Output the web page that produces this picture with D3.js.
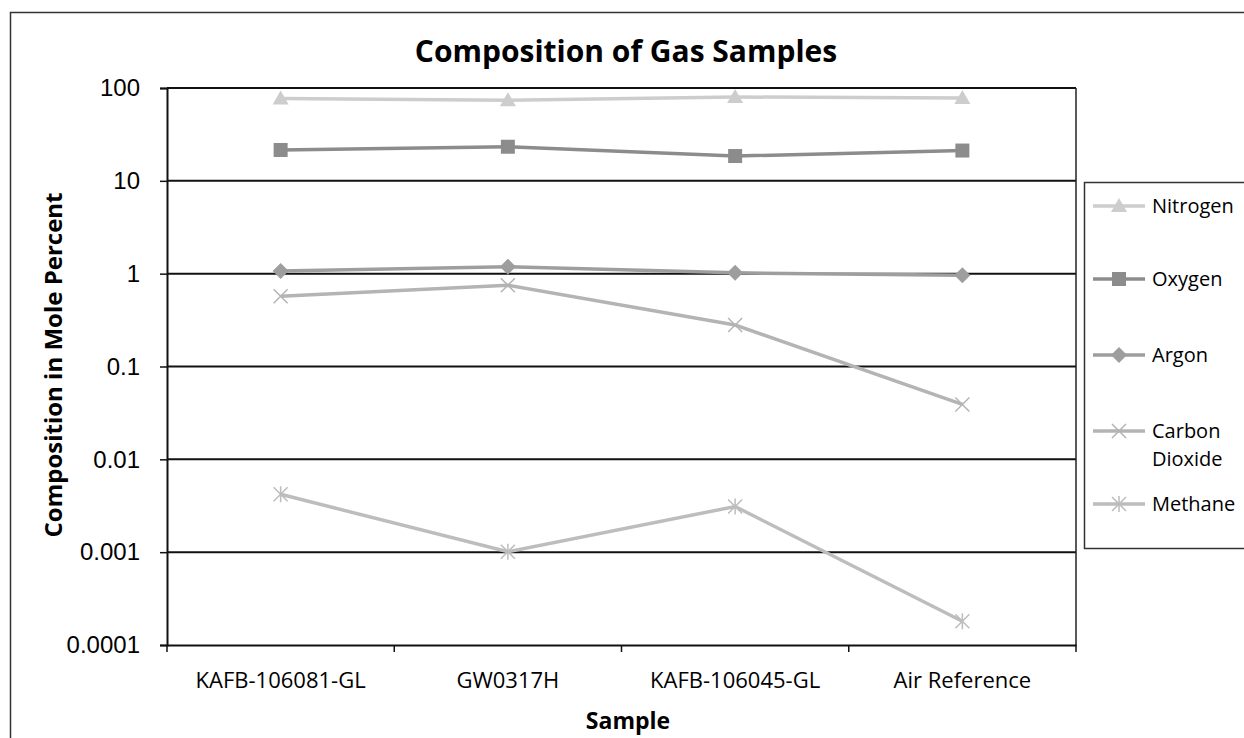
<!DOCTYPE html>
<html>
<head>
<meta charset="utf-8">
<script src="https://cdn.jsdelivr.net/npm/d3@7"></script>
<style>
  body { margin: 0; background: #fff; }
  svg { display: block; }
</style>
</head>
<body>
<svg width="1244" height="738"></svg>
<script>
// chart data
var samples = ["KAFB-106081-GL", "GW0317H", "KAFB-106045-GL", "Air Reference"];
var nitrogen = [77, 74, 80, 78];
var oxygen = [21.5, 23.3, 18.5, 21.2];
var argon = [1.07, 1.19, 1.02, 0.96];
var carbonDioxide = [0.57, 0.75, 0.28, 0.039];
var methane = [0.0042, 0.00101, 0.0031, 0.00018];
var yTicks = [0.0001, 0.001, 0.01, 0.1, 1, 10, 100];
var yTickLabels = ["0.0001", "0.001", "0.01", "0.1", "1", "10", "100"];

var series = [
  { name: "Nitrogen", values: nitrogen, color: "#cdcdcd", marker: "triangle" },
  { name: "Oxygen", values: oxygen, color: "#8c8c8c", marker: "square" },
  { name: "Argon", values: argon, color: "#9e9e9e", marker: "diamond" },
  { name: "Carbon Dioxide", values: carbonDioxide, color: "#b4b4b4", marker: "x" },
  { name: "Methane", values: methane, color: "#bdbdbd", marker: "star" }
];

var svg = d3.select("svg");

var margin = { top: 88, left: 167 };
var plotWidth = 1076 - margin.left;
var plotHeight = 645 - margin.top;

// outer frame
svg.append("rect")
  .attr("x", 10.5).attr("y", 12.5)
  .attr("width", 1250).attr("height", 760)
  .attr("fill", "none").attr("stroke", "#333").attr("stroke-width", 1.5);

var x = d3.scaleBand().domain(samples).range([0, plotWidth]);
var y = d3.scaleLog().domain([0.0001, 100]).range([plotHeight, 0]);

var plot = svg.append("g")
  .attr("transform", "translate(" + margin.left + "," + margin.top + ")");

// gridlines
plot.selectAll("line.grid")
  .data(yTicks.slice(1))
  .enter().append("line")
  .attr("class", "grid")
  .attr("x1", 0).attr("x2", plotWidth)
  .attr("y1", function(d) { return y(d); })
  .attr("y2", function(d) { return y(d); })
  .attr("stroke", "#111").attr("stroke-width", 2);

// right border
plot.append("line")
  .attr("x1", plotWidth).attr("x2", plotWidth)
  .attr("y1", 0).attr("y2", plotHeight)
  .attr("stroke", "#222").attr("stroke-width", 1.5);

// y axis
var yAxis = d3.axisLeft(y)
  .tickValues(yTicks)
  .tickFormat(function(d, i) { return yTickLabels[i]; })
  .tickSize(7).tickPadding(20);
var yg = plot.append("g").call(yAxis);
yg.select(".domain").attr("stroke", "#111").attr("stroke-width", 2);
yg.selectAll(".tick line").attr("stroke", "#111").attr("stroke-width", 1.5);
yg.selectAll(".tick text")
  .attr("font-family", "Liberation Sans, Arial, sans-serif")
  .attr("font-size", 24).attr("fill", "#000");

// x axis
var xAxis = d3.axisBottom(x).tickSize(0).tickPadding(27);
var xg = plot.append("g")
  .attr("transform", "translate(0," + plotHeight + ")")
  .call(xAxis);
xg.select(".domain").attr("stroke", "#111").attr("stroke-width", 2);
xg.selectAll(".tick text")
  .attr("font-family", "Open Sans, sans-serif")
  .attr("font-size", 22).attr("fill", "#000");
// band boundary ticks
xg.selectAll("line.bt")
  .data(d3.range(samples.length + 1))
  .enter().append("line")
  .attr("class", "bt")
  .attr("x1", function(i) { return i * x.step(); })
  .attr("x2", function(i) { return i * x.step(); })
  .attr("y1", 0).attr("y2", 7)
  .attr("stroke", "#111").attr("stroke-width", 1.5);

function cx(d, i) { return x(samples[i]) + x.bandwidth() / 2; }

function drawMarker(g, type, color) {
  if (type === "triangle") {
    g.append("path").attr("d", "M0,-8L8,6L-8,6Z").attr("fill", color);
  } else if (type === "square") {
    g.append("rect").attr("x", -7).attr("y", -7).attr("width", 14).attr("height", 14)
      .attr("fill", color);
  } else if (type === "diamond") {
    g.append("path").attr("d", "M0,-8L8,0L0,8L-8,0Z").attr("fill", color);
  } else if (type === "x") {
    g.append("path").attr("d", "M-7,-7L7,7M-7,7L7,-7")
      .attr("stroke", color).attr("stroke-width", 1.5).attr("fill", "none");
  } else if (type === "star") {
    g.append("path").attr("d", "M-7,-7L7,7M-7,7L7,-7M0,-8L0,8")
      .attr("stroke", color).attr("stroke-width", 1.5).attr("fill", "none");
  }
}

var line = d3.line()
  .x(cx)
  .y(function(d) { return y(d); });

series.forEach(function(s) {
  plot.append("path")
    .datum(s.values)
    .attr("fill", "none")
    .attr("stroke", s.color)
    .attr("stroke-width", 3.5)
    .attr("d", line);
  plot.selectAll("g.m-" + s.marker)
    .data(s.values)
    .enter().append("g")
    .attr("class", "m-" + s.marker)
    .attr("transform", function(d, i) { return "translate(" + cx(d, i) + "," + y(d) + ")"; })
    .each(function() { drawMarker(d3.select(this), s.marker, s.color); });
});

// title
svg.append("text")
  .attr("x", 626).attr("y", 62)
  .attr("text-anchor", "middle")
  .attr("font-family", "Open Sans, sans-serif")
  .attr("font-weight", "bold").attr("font-size", 30)
  .text("Composition of Gas Samples");

// axis titles
svg.append("text")
  .attr("transform", "translate(62,365) rotate(-90)")
  .attr("text-anchor", "middle")
  .attr("font-family", "Open Sans, sans-serif")
  .attr("font-weight", "bold").attr("font-size", 24)
  .text("Composition in Mole Percent");

svg.append("text")
  .attr("x", 628).attr("y", 729)
  .attr("text-anchor", "middle")
  .attr("font-family", "Open Sans, sans-serif")
  .attr("font-weight", "bold").attr("font-size", 23)
  .text("Sample");

// legend
var legend = svg.append("g");
legend.append("rect")
  .attr("x", 1084.5).attr("y", 182.5)
  .attr("width", 200).attr("height", 366)
  .attr("fill", "none").attr("stroke", "#333").attr("stroke-width", 1.5);

var legendY = [206, 279, 355, 431, 504];
series.forEach(function(s, i) {
  var g = legend.append("g").attr("transform", "translate(0," + legendY[i] + ")");
  g.append("line").attr("x1", 1093).attr("x2", 1145).attr("y1", 0).attr("y2", 0)
    .attr("stroke", s.color).attr("stroke-width", 3.5);
  var m = g.append("g").attr("transform", "translate(1119,0)");
  drawMarker(m, s.marker, s.color);
  var words = s.name.split(" ");
  words.forEach(function(w, j) {
    g.append("text")
      .attr("x", 1152).attr("y", 7 + j * 28)
      .attr("font-family", "Open Sans, sans-serif")
      .attr("font-size", 20).attr("fill", "#000")
      .text(w);
  });
});
</script>
</body>
</html>
